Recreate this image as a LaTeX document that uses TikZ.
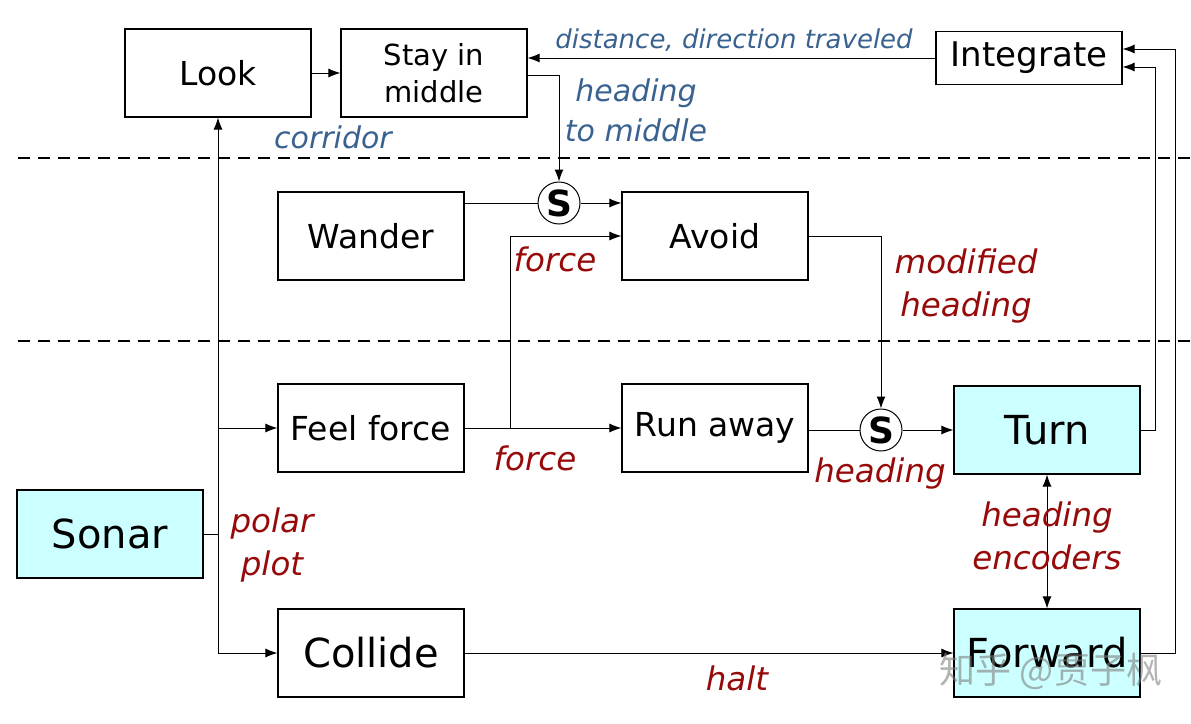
\documentclass[tikz,border=0pt]{standalone}
\usepackage{fontspec}
\setmainfont{DejaVu Sans}
\newfontfamily\cjkfont{Noto Sans CJK SC}
\usetikzlibrary{arrows.meta}
\definecolor{boxCyan}{RGB}{204,255,255}
\definecolor{lblBlue}{RGB}{58,98,145}
\definecolor{lblRed}{RGB}{150,10,10}

\begin{document}
\begin{tikzpicture}[x=1pt, y=-1pt,
  blk/.style={draw, line width=1.1pt, minimum width=186pt, minimum height=88pt,
    inner sep=0pt, align=center, font=\fontsize{33}{38}\selectfont},
  bigblk/.style={blk, font=\fontsize{40}{46}\selectfont},
  hw/.style={bigblk, fill=boxCyan},
  suppr/.style={draw, circle, line width=1pt, minimum size=42pt, inner sep=0pt,
    font=\fontsize{36}{40}\selectfont\bfseries},
  lblb/.style={text=lblBlue, align=center, font=\fontsize{30}{40}\selectfont\itshape},
  lblr/.style={text=lblRed, align=center, font=\fontsize{32.5}{43}\selectfont\itshape},
  conn/.style={line width=1pt, -{Latex[length=12pt, width=9pt]}},
  ln/.style={line width=1pt},
  layer/.style={line width=2pt, dash pattern=on 12pt off 8pt},
]
  \useasboundingbox (0,0) rectangle (1191,723);

  \draw[layer] (18,158) -- (1191,158);
  \draw[layer] (18,341) -- (1191,341);

  \node[blk] (look) at (218,73) {Look};
  \node[blk, font=\fontsize{29}{37}\selectfont] (stay) at (434,73) {Stay in\\middle};
  \node[blk, minimum height=53pt, font=\fontsize{34}{38}\selectfont] (integ) at (1029,58) {Integrate};
  \node[blk] (wander) at (371,236) {Wander};
  \node[blk] (avoid) at (715,236) {Avoid};
  \node[suppr] (s1) at (559,203) {S};
  \node[blk] (feel) at (371,428) {Feel force};
  \node[blk] (run) at (715,428) {Run away};
  \node[suppr] (s2) at (881,430) {S};
  \node[hw] (turn) at (1047,430) {Turn};
  \node[hw] (sonar) at (110,534) {Sonar};
  \node[bigblk] (collide) at (371,653) {Collide};
  \node[hw] (fwd) at (1047,653) {Forward};

  \coordinate (jS) at (218,534);
  \coordinate (jF) at (218,428);
  \coordinate (jC) at (218,653);
  \coordinate (jA) at (510,428);

  \draw[conn] (look) -- (stay);
  \draw[conn] (integ.west) -- (integ.west -| stay.east);
  \draw[conn] ([yshift=-2pt]stay.east) -| (s1.north);
  \draw[ln] (sonar.east) -- (jS);
  \draw[conn] (jC) -- (look.south);
  \draw[conn] (jF) -- (feel.west);
  \draw[conn] (jC) -- (collide.west);
  \draw[ln] (wander.east |- s1.west) -- (s1.west);
  \draw[conn] (s1.east) -- (s1.east -| avoid.west);
  \draw[conn] (feel) -- (run);
  \draw[conn] (jA) |- (avoid.west);
  \draw[conn] (avoid.east) -| (s2.north);
  \draw[ln] (run.east |- s2.west) -- (s2.west);
  \draw[conn] (s2.east) -- (turn.west);
  \draw[line width=1pt, {Latex[length=12pt, width=9pt]}-{Latex[length=12pt, width=9pt]}]
    (turn.south) -- (fwd.north);
  \draw[conn] (turn.east) -- ++(15,0) |- ([yshift=-9pt]integ.east);
  \draw[conn] (fwd.east) -- ++(35,0) |- ([yshift=9pt]integ.east);
  \draw[conn] (collide) -- (fwd);

  \node[lblb, font=\fontsize{26}{30}\selectfont\itshape] (lDist) at (734,40) {distance, direction traveled};
  \node[lblb] (lMid) at (636,110) {heading\\to middle};
  \node[lblb] (lCorr) at (333,137) {corridor};
  \node[lblr] (lForceA) at (555,259) {force};
  \node[lblr] (lMod) at (966,286) {modified\\heading};
  \node[lblr] (lForceB) at (535,458) {force};
  \node[lblr] (lHead) at (880,474) {heading};
  \node[lblr] (lEnc) at (1047,536) {heading\\encoders};
  \node[lblr] (lPolar) at (272,545) {polar\\plot};
  \node[lblr] (lHalt) at (737,678) {halt};

  \node[text=gray, opacity=0.6, font=\cjkfont\fontsize{36}{40}\selectfont] (mark) at (1051,671) {知乎 @贾子枫};
\end{tikzpicture}
\end{document}
